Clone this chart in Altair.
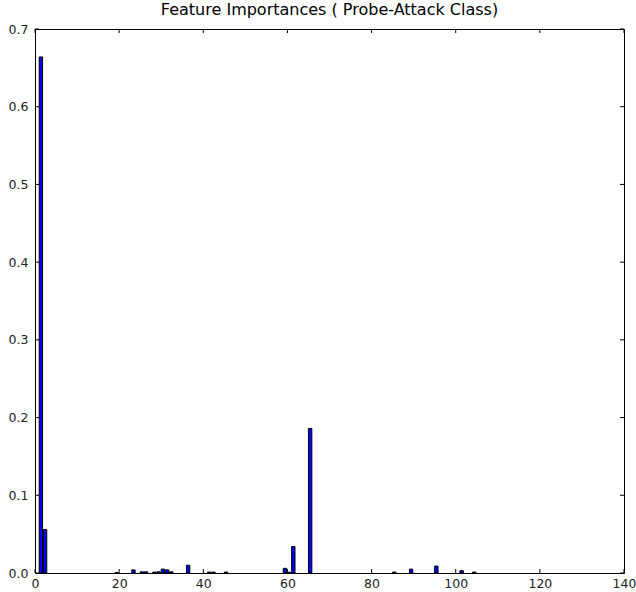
import altair as alt
import pandas as pd

# Feature indices with non-zero importance
feature_index = [1, 2, 19, 23, 25, 26, 28, 29, 30, 31, 32, 36, 41, 42, 45,
                 59, 60, 61, 65, 85, 89, 95, 101, 104]
importance = [0.664, 0.056, 0.0006, 0.004, 0.0015, 0.0015, 0.0012, 0.0015,
              0.005, 0.004, 0.0015, 0.010, 0.0012, 0.0012, 0.0012,
              0.006, 0.001, 0.034, 0.186, 0.0012, 0.005, 0.009, 0.003, 0.0012]

x_ticks = [0, 20, 40, 60, 80, 100, 120, 140]
y_ticks = [0.0, 0.1, 0.2, 0.3, 0.4, 0.5, 0.6, 0.7]
title_text = "Feature Importances ( Probe-Attack Class)"

W, H = 589, 544
BAR_W = 0.8
TICK = 4

bars_df = pd.DataFrame({"feature": feature_index, "importance": importance})
xt_df = pd.DataFrame({"t": x_ticks})
yt_df = pd.DataFrame({"t": y_ticks})

xscale = alt.Scale(domain=[0, 140], nice=False, zero=False)
yscale = alt.Scale(domain=[0, 0.7], nice=False, zero=False)

x_axis = alt.Axis(values=x_ticks, format="d", ticks=False, domain=False,
                  grid=False, labelPadding=4, labelFlush=False,
                  labelOverlap=False, title=None,
                  labelFont="DejaVu Sans", labelFontSize=12.5, labelColor="#222222")
y_axis = alt.Axis(values=y_ticks, format=".1f", ticks=False, domain=False,
                  grid=False, labelPadding=7, labelFlush=False,
                  labelOverlap=False, title=None,
                  labelFont="DejaVu Sans", labelFontSize=12.5, labelColor="#222222")

bars = alt.Chart(bars_df).transform_calculate(
    feature_end=f"datum.feature + {BAR_W}"
).mark_bar(color="#0000ff", stroke="black", strokeWidth=1).encode(
    x=alt.X("feature:Q", scale=xscale, axis=x_axis),
    x2="feature_end:Q",
    y=alt.Y("importance:Q", scale=yscale, axis=y_axis),
    y2=alt.datum(0),
)

xt_bottom = alt.Chart(xt_df).mark_rule(color="black", strokeWidth=1).encode(
    x=alt.X("t:Q", scale=xscale, axis=x_axis),
    y=alt.value(H), y2=alt.value(H - TICK))
xt_top = alt.Chart(xt_df).mark_rule(color="black", strokeWidth=1).encode(
    x=alt.X("t:Q", scale=xscale, axis=x_axis),
    y=alt.value(0), y2=alt.value(TICK))
yt_left = alt.Chart(yt_df).mark_rule(color="black", strokeWidth=1).encode(
    y=alt.Y("t:Q", scale=yscale, axis=y_axis),
    x=alt.value(0), x2=alt.value(TICK))
yt_right = alt.Chart(yt_df).mark_rule(color="black", strokeWidth=1).encode(
    y=alt.Y("t:Q", scale=yscale, axis=y_axis),
    x=alt.value(W - TICK), x2=alt.value(W))

chart = alt.layer(bars, xt_bottom, xt_top, yt_left, yt_right).properties(
    width=W, height=H,
    background="white",
    autosize=alt.AutoSizeParams(type="none"),
    padding={"left": 35, "top": 29, "right": 12, "bottom": 19},
    title=alt.TitleParams(title_text, font="DejaVu Sans", fontSize=16,
                          fontWeight="normal", color="black", anchor="middle",
                          offset=5),
).configure_view(
    stroke="black", strokeWidth=1
)

chart.save("out.html", embed_options={"renderer": "svg", "actions": False})
